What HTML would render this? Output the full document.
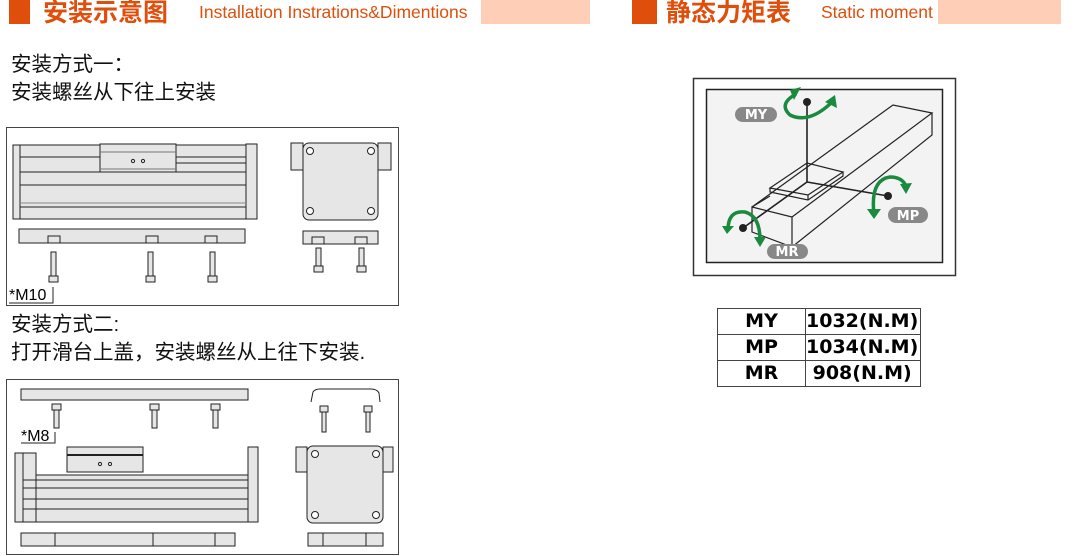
<!DOCTYPE html>
<html><head><meta charset="utf-8">
<style>
body{margin:0;width:1084px;height:556px;background:#fff;overflow:hidden;position:relative;font-family:"Liberation Sans","Noto Sans CJK SC",sans-serif}
.a{position:absolute;white-space:nowrap}
.t{color:#e04e0c;font-weight:bold;font-size:25px;line-height:26px;font-family:"Noto Sans CJK SC",sans-serif}
.e{color:#e04e0c;font-size:17.5px;line-height:17px}
.cn{font-size:20.5px;color:#111;font-family:"Liberation Sans","Noto Sans CJK SC",sans-serif;line-height:28px}
svg{position:absolute;left:0;top:0}
table{border-collapse:collapse;position:absolute;left:717px;top:308px;font-weight:bold;font-size:19px;font-family:"DejaVu Sans",sans-serif}
td{border:1px solid #444;height:25px;padding:0;line-height:25px}
</style></head><body>
<div class="a" style="left:9px;top:0;width:21px;height:24px;background:#e04e0c"></div>
<div class="a t" style="left:43px;top:-2px">安装示意图</div>
<div class="a e" style="left:199px;top:4px">Installation Instrations&amp;Dimentions</div>
<div class="a" style="left:481px;top:0;width:109px;height:24px;background:#fecfb6"></div>
<div class="a" style="left:632px;top:0;width:25px;height:24px;background:#e04e0c"></div>
<div class="a t" style="left:666px;top:-2px">静态力矩表</div>
<div class="a e" style="left:821px;top:4px">Static moment</div>
<div class="a" style="left:938px;top:0;width:123px;height:24px;background:#fecfb6"></div>

<div class="a cn" style="left:11px;top:51px">安装方式一：<br>安装螺丝从下往上安装</div>
<div class="a cn" style="left:11px;top:311px">安装方式二:<br>打开滑台上盖，安装螺丝从上往下安装.</div>

<svg width="1084" height="556" viewBox="0 0 1084 556">
<g fill="#e6e6e6" stroke="#222" stroke-width="1">
<rect x="6.5" y="127.5" width="392" height="178" fill="#fff" stroke="#444"/>
<rect x="13" y="145" width="244" height="74"/>
<rect x="13" y="145" width="7" height="74"/>
<rect x="246" y="144" width="11" height="75"/>
<rect x="100" y="144" width="76" height="28"/>
<line x1="20" y1="157" x2="100" y2="157"/><line x1="176" y1="157" x2="246" y2="157"/>
<line x1="20" y1="172" x2="246" y2="172"/><line x1="20" y1="185" x2="246" y2="185"/>
<line x1="20" y1="203" x2="246" y2="203" stroke="#888"/><line x1="20" y1="207" x2="246" y2="207"/>
<line x1="176" y1="163" x2="246" y2="163"/>
<line x1="100" y1="152" x2="176" y2="152" stroke="#777"/><line x1="100" y1="169" x2="176" y2="169" stroke="#777"/>
<circle cx="133" cy="161" r="1.6" fill="none"/><circle cx="143" cy="161" r="1.6" fill="none"/>
<rect x="19" y="229" width="226" height="14"/>
<rect x="48" y="236" width="12" height="7"/><rect x="146" y="236" width="12" height="7"/><rect x="205" y="236" width="12" height="7"/>
<rect x="51" y="252" width="5" height="24"/><rect x="148" y="252" width="5" height="24"/><rect x="210" y="252" width="5" height="24"/>
<rect x="49" y="276" width="9" height="6"/><rect x="146" y="276" width="9" height="6"/><rect x="208" y="276" width="9" height="6"/>
<polyline points="9,303 53,303 53,287" fill="none"/>
<rect x="291" y="143" width="12" height="27"/><rect x="378" y="143" width="13" height="27"/>
<rect x="303" y="143" width="75" height="77" rx="6"/>
<rect x="303" y="231" width="75" height="13"/>
<rect x="312" y="237" width="12" height="7"/><rect x="355" y="237" width="12" height="7"/>
<rect x="316" y="248" width="5" height="18"/><rect x="359" y="248" width="5" height="18"/>
<rect x="314" y="266" width="9" height="6"/><rect x="357" y="266" width="9" height="6"/>
<g fill="#fff"><circle cx="310" cy="151" r="3.5"/><circle cx="371" cy="151" r="3.5"/><circle cx="310" cy="211" r="3.5"/><circle cx="371" cy="211" r="3.5"/></g>
<rect x="6.5" y="379.5" width="392" height="175" fill="#fff" stroke="#444"/>
<rect x="21" y="389" width="227" height="11"/>
<rect x="52" y="404" width="9" height="6"/><rect x="150" y="404" width="9" height="6"/><rect x="211" y="404" width="9" height="6"/>
<rect x="54" y="410" width="5" height="18"/><rect x="152" y="410" width="5" height="18"/><rect x="213" y="410" width="5" height="18"/>
<polyline points="21,443 55,443 55,432" fill="none"/>
<rect x="15" y="453" width="8" height="69"/><rect x="23" y="453" width="13" height="69"/>
<rect x="36" y="475" width="212" height="47"/>
<rect x="248" y="447" width="10" height="75"/>
<rect x="67" y="447" width="76" height="25"/>
<line x1="67" y1="455" x2="143" y2="455" stroke-width="2"/>
<line x1="23" y1="480" x2="248" y2="480"/><line x1="23" y1="488" x2="248" y2="488"/><line x1="23" y1="499" x2="248" y2="499"/><line x1="23" y1="509" x2="248" y2="509"/>
<circle cx="100" cy="464" r="1.6" fill="none"/><circle cx="110" cy="464" r="1.6" fill="none"/>
<rect x="21" y="533" width="214" height="13"/>
<line x1="55" y1="533" x2="55" y2="546"/><line x1="153" y1="533" x2="153" y2="546"/><line x1="215" y1="533" x2="215" y2="546"/>
<path d="M311,402 L313,392 Q315,389 320,389 L371,389 Q377,389 379,393 L380,402" fill="none"/>
<rect x="320" y="406" width="8" height="6"/><rect x="364" y="406" width="8" height="6"/>
<rect x="322" y="412" width="4" height="20"/><rect x="366" y="412" width="4" height="20"/>
<rect x="296" y="447" width="11" height="25"/><rect x="383" y="447" width="10" height="25"/>
<rect x="307" y="446" width="76" height="77" rx="6"/>
<rect x="308" y="533" width="75" height="13"/>
<line x1="323" y1="533" x2="323" y2="546"/><line x1="366" y1="533" x2="366" y2="546"/>
<g fill="#fff"><circle cx="315" cy="454" r="3.5"/><circle cx="376" cy="454" r="3.5"/><circle cx="315" cy="515" r="3.5"/><circle cx="376" cy="515" r="3.5"/></g>
</g>
<text x="9" y="300" font-size="16" font-family="Liberation Sans">*M10</text>
<text x="21" y="441" font-size="16" font-family="Liberation Sans">*M8</text>

<rect x="693.5" y="78.5" width="262" height="197" fill="#fff" stroke="#333" stroke-width="1.5"/>
<rect x="706.5" y="89.5" width="236" height="173" fill="#f3f3f3" stroke="#222" stroke-width="1.5"/>
<g fill="none" stroke="#222" stroke-width="1.2">
<polygon points="752,207 792,217 792,247 752,232"/>
<polyline points="752,207 893,105 932,113 792,217"/>
<polyline points="932,113 932,135 792,247"/>
<polygon points="770,188 807,163 843,172 808,195"/>
<polyline points="770,188 770,192 808,200 843,176 843,172"/>
<line x1="808" y1="195" x2="808" y2="200"/>
<line x1="752" y1="207" x2="770" y2="196"/>
<line x1="807" y1="101" x2="807" y2="182" stroke-width="1.6"/>
<line x1="807" y1="182" x2="888" y2="196" stroke-width="1.6"/>
<line x1="807" y1="182" x2="743" y2="228" stroke-width="1.6"/>
</g>
<g fill="#222"><circle cx="807" cy="102" r="4"/><circle cx="888" cy="196" r="4"/><circle cx="743" cy="228" r="4"/></g>
<g fill="none" stroke="#1a8a3e" stroke-width="3.5">
<path d="M796,94 Q778,104 790,115 Q808,124 830,104"/>
<path d="M874,214 Q870,180 890,177 Q902,177 906,186"/>
<path d="M728,230 Q728,210 745,212 Q760,216 760,240"/>
</g>
<g fill="#1a8a3e">
<polygon points="801,87 794,100 790,90"/>
<polygon points="835,95 837,108 825,102"/>
<polygon points="867,209 881,209 874,219"/>
<polygon points="900,184 912,183 906,194"/>
<polygon points="722,226 734,226 727,234"/>
<polygon points="754,237 766,237 760,247"/>
</g>
<g font-family="DejaVu Sans" font-weight="bold" font-size="13" fill="#fff" text-anchor="middle">
<rect x="735" y="107" width="42" height="15" rx="7.5" fill="#888"/><text x="756" y="119">MY</text>
<rect x="888" y="207" width="40" height="16" rx="8" fill="#888"/><text x="908" y="220">MP</text>
<rect x="767" y="244" width="41" height="15" rx="7.5" fill="#888"/><text x="787" y="256">MR</text>
</g>
</svg>
<table>
<tr><td style="width:87px;text-align:center">MY</td><td style="width:114px">1032(N.M)</td></tr>
<tr><td style="text-align:center">MP</td><td>1034(N.M)</td></tr>
<tr><td style="text-align:center">MR</td><td>&nbsp;908(N.M)</td></tr>
</table>
</body></html>
